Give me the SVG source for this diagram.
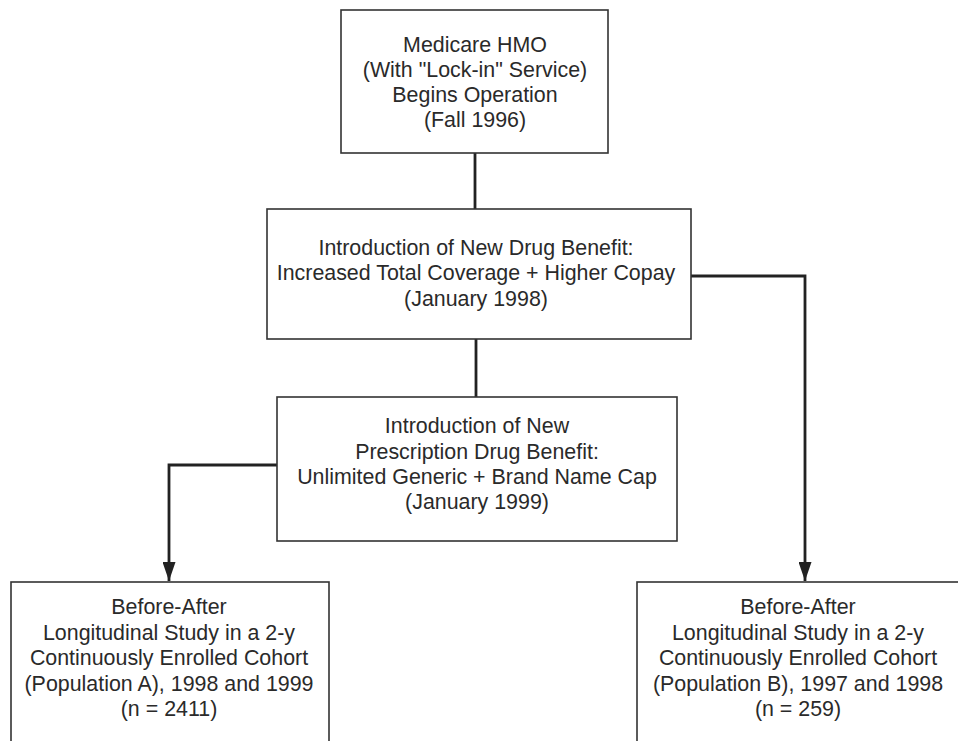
<svg xmlns="http://www.w3.org/2000/svg" width="958" height="741" viewBox="0 0 958 741">
<style>
.box{fill:#fff;stroke:#333;stroke-width:1.6}
.t{font-family:"Liberation Sans",Arial,sans-serif;font-size:21.4px;fill:#2a2a2a;text-anchor:middle}
.c{fill:none;stroke:#222;stroke-width:2.8}
</style>
<defs>
<marker id="ah" markerUnits="userSpaceOnUse" markerWidth="20" markerHeight="13" refX="19" refY="6.5" orient="auto" viewBox="0 0 19 13">
<path d="M0,0 L19,6.5 L0,13 Z" fill="#222"/>
</marker>
</defs>
<rect width="958" height="741" fill="#fff"/>
<g id="connectors">
<line class="c" x1="475" y1="153" x2="475" y2="209"/>
<line class="c" x1="476" y1="339" x2="476" y2="397"/>
<path class="c" d="M691,276 H805 V581" marker-end="url(#ah)"/>
<path class="c" d="M278,465 H169 V581" marker-end="url(#ah)"/>
</g>
<g id="n1">
<rect class="box" x="341" y="10" width="267" height="143"/>
<text class="t" x="475" y="52">Medicare HMO</text>
<text class="t" x="475" y="77">(With "Lock-in" Service)</text>
<text class="t" x="475" y="102">Begins Operation</text>
<text class="t" x="475" y="127">(Fall 1996)</text>
</g>
<g id="n2">
<rect class="box" x="267" y="209" width="424" height="130"/>
<text class="t" x="476" y="255">Introduction of New Drug Benefit:</text>
<text class="t" x="476" y="280">Increased Total Coverage + Higher Copay</text>
<text class="t" x="476" y="306">(January 1998)</text>
</g>
<g id="n3">
<rect class="box" x="277" y="397" width="400" height="144"/>
<text class="t" x="477" y="433">Introduction of New</text>
<text class="t" x="477" y="459">Prescription Drug Benefit:</text>
<text class="t" x="477" y="484">Unlimited Generic + Brand Name Cap</text>
<text class="t" x="477" y="509">(January 1999)</text>
</g>
<g id="n4">
<rect class="box" x="11" y="582" width="318" height="180"/>
<text class="t" x="169" y="614">Before-After</text>
<text class="t" x="169" y="640">Longitudinal Study in a 2-y</text>
<text class="t" x="169" y="665">Continuously Enrolled Cohort</text>
<text class="t" x="169" y="691">(Population A), 1998 and 1999</text>
<text class="t" x="169" y="716">(n = 2411)</text>
</g>
<g id="n5">
<rect class="box" x="637" y="582" width="322" height="180"/>
<text class="t" x="798" y="614">Before-After</text>
<text class="t" x="798" y="640">Longitudinal Study in a 2-y</text>
<text class="t" x="798" y="665">Continuously Enrolled Cohort</text>
<text class="t" x="798" y="691">(Population B), 1997 and 1998</text>
<text class="t" x="798" y="716">(n = 259)</text>
</g>
</svg>
